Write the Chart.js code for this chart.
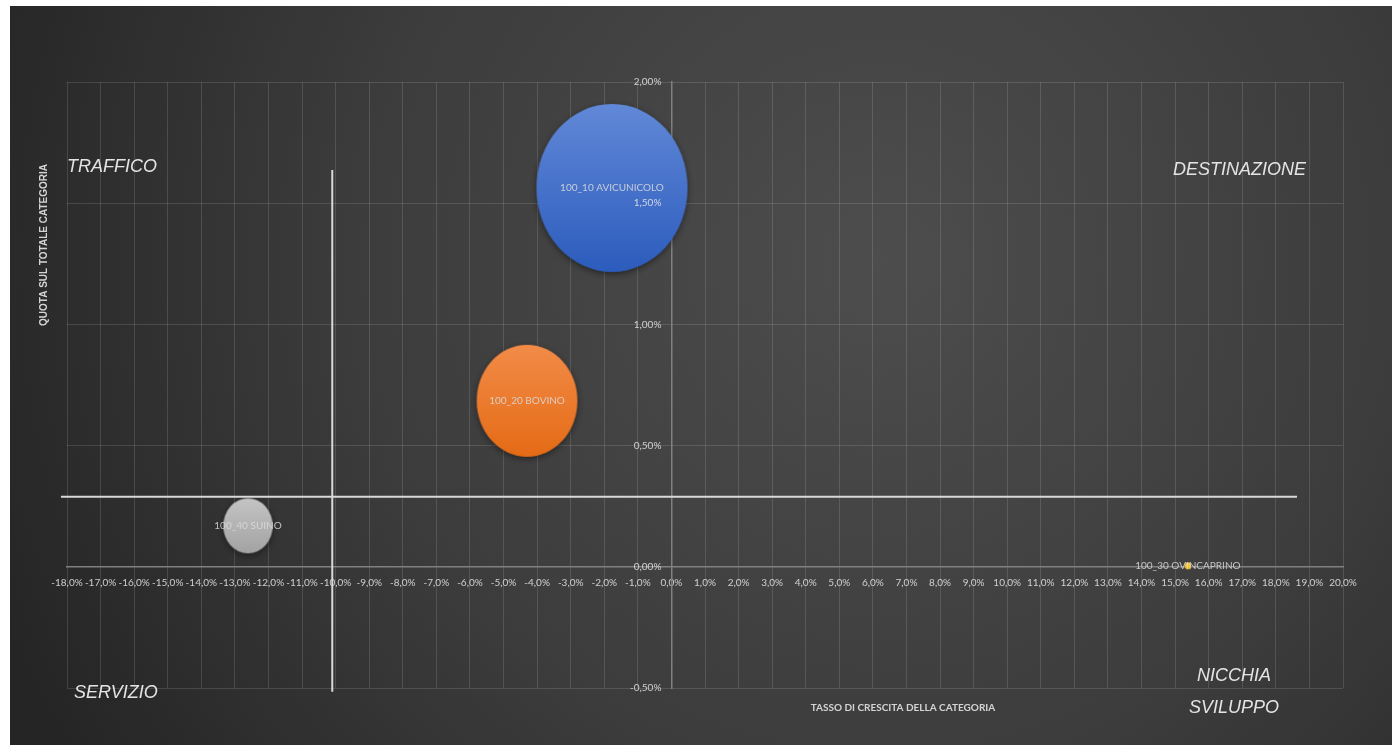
<!DOCTYPE html>
<html>
<head>
<meta charset="utf-8">
<title>Matrice categorie</title>
<script src="https://cdn.jsdelivr.net/npm/chart.js@4.4.1/dist/chart.umd.min.js"></script>
<style>
  html, body { margin: 0; padding: 0; background: #fff; overflow: hidden; }
  #wrap { width: 1392px; height: 745px; }
</style>
</head>
<body>
<div id="wrap"><canvas id="matrice"></canvas></div>
<script>
// categorie e valori (percentuali)
const categorie = ["100_10 AVICUNICOLO", "100_20 BOVINO", "100_40 SUINO", "100_30 OVINCAPRINO"];
const crescita = [-1.77, -4.30, -12.61, 15.38];  // tasso di crescita della categoria
const quota = [1.563, 0.685, 0.169, 0.004];       // quota sul totale categoria
const volume = [100, 44.4, 10.7, 0.17];           // dimensione delle bolle
const coloreAlto = ["#6289d8", "#f28c48", "#c4c4c4", "#ffd23f"];
const coloreBasso = ["#2c5cbd", "#e56b16", "#a3a3a3", "#f5b800"];

// limiti assi
const xMin = -18, xMax = 20, xPasso = 1;
const yMin = -0.5, yMax = 2, yPasso = 0.5;

// linee dei quadranti
const sogliaQuota = 0.289;
const lineaOrizzX = [-18.18, 18.63];
const sogliaCrescita = -10.1;
const lineaVertY = [1.637, -0.515];

// etichette dei quadranti
const quadranti = [
  { testo: "TRAFFICO", x: 67, y: 167 },
  { testo: "DESTINAZIONE", x: 1173, y: 170 },
  { testo: "SERVIZIO", x: 74, y: 693 },
  { testo: "NICCHIA", x: 1197, y: 676 },
  { testo: "SVILUPPO", x: 1189, y: 708 }
];

const R_MAX = 84;      // raggio della bolla più grande
const SCHIACCIA = 0.9; // rapporto larghezza/altezza delle bolle

function bolla(r, c1, c2) {
  const pad = 10;
  const w = Math.round(r * 2 * SCHIACCIA) + pad * 2;
  const h = Math.round(r * 2) + pad * 2;
  const cv = document.createElement("canvas");
  cv.width = w; cv.height = h;
  const g = cv.getContext("2d");
  const grd = g.createLinearGradient(0, pad, 0, h - pad);
  grd.addColorStop(0, c1);
  grd.addColorStop(1, c2);
  if (r > 6) {
    g.shadowColor = "rgba(0,0,0,0.45)";
    g.shadowBlur = 6;
    g.shadowOffsetY = 2;
  }
  g.beginPath();
  g.ellipse(w / 2, h / 2, r * SCHIACCIA, r, 0, 0, Math.PI * 2);
  g.fillStyle = grd;
  g.fill();
  return cv;
}

// le bolle sono immagini ellittiche, la dimensione segue l'area (volume)
const maxVol = Math.max(...volume);
const raggi = volume.map(v => R_MAX * Math.sqrt(v / maxVol));
const immagini = raggi.map((r, i) => bolla(r, coloreAlto[i], coloreBasso[i]));

const sfondo = {
  id: "sfondo",
  beforeDraw(chart) {
    const ctx = chart.ctx;
    const w = chart.width, h = chart.height;
    ctx.save();
    ctx.fillStyle = "#ffffff";
    ctx.fillRect(0, 0, w, h);
    const grd = ctx.createRadialGradient(880, 260, 0, 880, 260, 950);
    grd.addColorStop(0, "#4d4d4d");
    grd.addColorStop(0.55, "#3c3c3c");
    grd.addColorStop(1, "#252525");
    ctx.fillStyle = grd;
    ctx.fillRect(10, 6, w - 10, h - 6);
    ctx.restore();
  }
};

const etichette = {
  id: "etichette",
  afterDatasetsDraw(chart) {
    const ctx = chart.ctx;
    const meta = chart.getDatasetMeta(0);
    ctx.save();
    ctx.font = "10px Lato";
    ctx.fillStyle = "rgba(220,220,220,0.85)";
    ctx.textAlign = "center";
    ctx.textBaseline = "middle";
    meta.data.forEach((el, i) => ctx.fillText(categorie[i], el.x, el.y));
    ctx.restore();
  }
};

const testi = {
  id: "testi",
  afterDraw(chart) {
    const ctx = chart.ctx;
    ctx.save();
    ctx.fillStyle = "#e4e4e4";
    ctx.font = "italic 18px 'Liberation Sans'";
    ctx.textBaseline = "middle";
    ctx.textAlign = "left";
    quadranti.forEach(q => ctx.fillText(q.testo, q.x, q.y));

    ctx.fillStyle = "#d4d4d4";
    ctx.font = "bold 10px 'Liberation Sans'";
    ctx.textAlign = "center";
    ctx.save();
    ctx.translate(44, 245);
    ctx.rotate(-Math.PI / 2);
    ctx.fillText("QUOTA SUL TOTALE CATEGORIA", 0, 0);
    ctx.restore();
    ctx.font = "bold 10px 'Liberation Sans Narrow', 'Lato'";
    ctx.fillText("TASSO DI CRESCITA DELLA CATEGORIA", 903, 708);
    ctx.restore();
  }
};

new Chart(document.getElementById("matrice"), {
  type: "bubble",
  data: {
    datasets: [
      {
        label: "Categorie",
        data: categorie.map((c, i) => ({ x: crescita[i], y: quota[i] })),
        pointStyle: ctx => immagini[ctx.dataIndex],
        radius: 1, // l'immagine disegna la bolla, il raggio non deve allargare i margini
        backgroundColor: coloreBasso,
        borderWidth: 0,
        clip: false,
        order: 2
      },
      {
        type: "scatter",
        label: "Soglia quota",
        data: lineaOrizzX.map(x => ({ x: x, y: sogliaQuota })),
        showLine: true,
        borderColor: "#d9d9d9",
        borderWidth: 2,
        pointRadius: 0,
        clip: false,
        order: 1
      },
      {
        type: "scatter",
        label: "Soglia crescita",
        data: lineaVertY.map(y => ({ x: sogliaCrescita, y: y })),
        showLine: true,
        borderColor: "#d9d9d9",
        borderWidth: 2,
        pointRadius: 0,
        clip: false,
        order: 1
      }
    ]
  },
  options: {
    responsive: true,
    maintainAspectRatio: false,
    animation: false,
    events: [],
    layout: { padding: { left: 67, top: 82, right: 49, bottom: 57 } },
    plugins: {
      legend: { display: false },
      tooltip: { enabled: false }
    },
    scales: {
      x: {
        type: "linear",
        position: { y: 0 },
        min: xMin,
        max: xMax,
        grid: { color: "rgba(255,255,255,0.13)", drawTicks: false },
        border: { color: "#808080", width: 1.5 },
        ticks: {
          stepSize: xPasso,
          autoSkip: false,
          maxRotation: 0,
          padding: 10,
          color: "rgba(230,230,230,0.85)",
          font: { family: "Lato", size: 10 },
          callback: v => v.toFixed(1).replace(".", ",") + "%"
        }
      },
      y: {
        type: "linear",
        position: { x: 0 },
        min: yMin,
        max: yMax,
        grid: { color: "rgba(255,255,255,0.13)", drawTicks: false },
        border: { color: "#808080", width: 1.5 },
        ticks: {
          stepSize: yPasso,
          padding: 10,
          z: 1,
          color: "rgba(230,230,230,0.85)",
          font: { family: "Lato", size: 10 },
          // etichette allineate a destra sull'asse: spazio finale come distacco
          callback: v => v.toFixed(2).replace(".", ",") + "%\u2002\u2002"
        }
      }
    }
  },
  plugins: [sfondo, etichette, testi]
});
</script>
</body>
</html>
